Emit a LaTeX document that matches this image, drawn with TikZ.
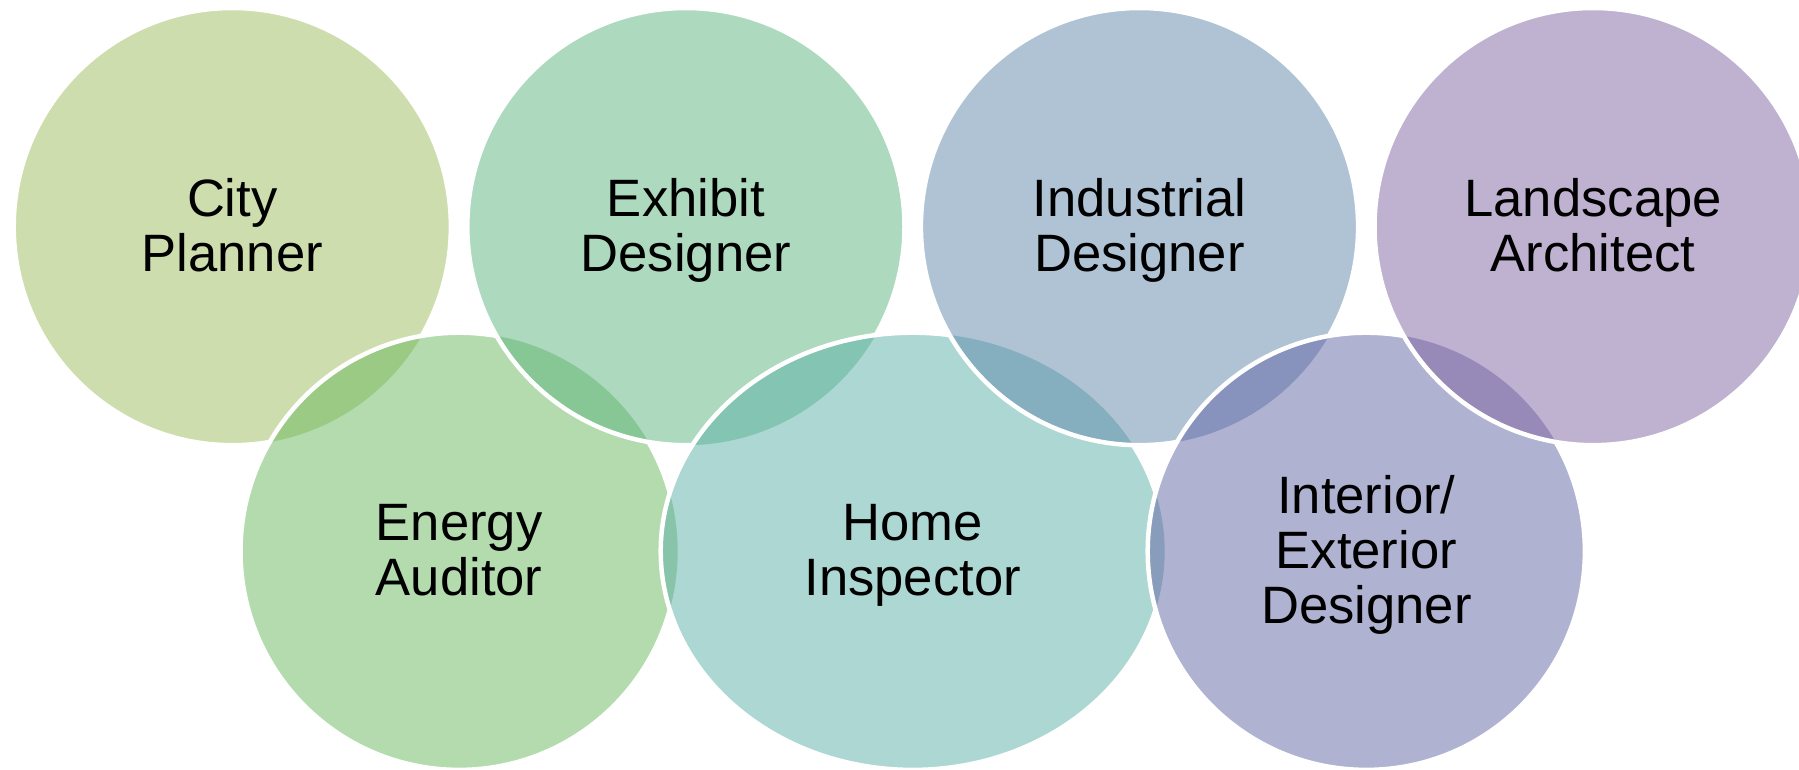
\documentclass[tikz,border=0pt]{standalone}
\usepackage{fontspec}
\setmainfont{Liberation Sans}
\usetikzlibrary{calc}
\definecolor{cCP}{RGB}{157,187,91}
\definecolor{cED}{RGB}{91,179,125}
\definecolor{cID}{RGB}{95,135,171}
\definecolor{cLA}{RGB}{127,99,161}
\definecolor{cEA}{RGB}{103,183,93}
\definecolor{cHI}{RGB}{91,175,167}
\definecolor{cIE}{RGB}{97,101,165}
\newcommand{\lblfont}{\fontsize{26.3pt}{27.5pt}\selectfont}
\newcommand{\radC}{218.6}
\newcommand{\radE}{252}
\newcommand{\cutcircle}[1]{\clip (-100,-100) -- (1900,-100) -- (1900,900) -- (-100,900) -- cycle ($(#1)+(\radC,0)$) arc[start angle=360,end angle=0,radius=\radC];}
\newcommand{\cutellipse}[1]{\clip (-100,-100) -- (1900,-100) -- (1900,900) -- (-100,900) -- cycle ($(#1)+(\radE,0)$) arc[start angle=360,end angle=0,x radius=\radE,y radius=\radC];}
\tikzset{
  blob/.style={fill=#1, fill opacity=0.5, draw=none},
  rim/.style={draw=white, line width=2.25pt},
  lbl/.style={align=center, font=\lblfont, text=black, inner sep=0pt},
}
\begin{document}
\begin{tikzpicture}[x=0.5pt,y=-0.5pt]
\useasboundingbox (0,0) rectangle (1799,770);
\coordinate (pCP) at (232.3,226.6);
\coordinate (pEA) at (459.1,551.3);
\coordinate (pED) at (685.9,226.6);
\coordinate (pHI) at (912.7,551.3);
\coordinate (pID) at (1139.5,226.6);
\coordinate (pIE) at (1366.3,551.3);
\coordinate (pLA) at (1593.1,226.6);
% City Planner
\fill[blob=cCP] (pCP) circle[radius=\radC];
\begin{scope}\cutcircle{pEA}\draw[rim] (pCP) circle[radius=\radC];\end{scope}
% Energy Auditor
\fill[blob=cEA] (pEA) circle[radius=\radC];
\begin{scope}\cutcircle{pED}\begin{scope}\cutellipse{pHI}\draw[rim] (pEA) circle[radius=\radC];\end{scope}\end{scope}
% Exhibit Designer
\fill[blob=cED] (pED) circle[radius=\radC];
\begin{scope}\cutellipse{pHI}\draw[rim] (pED) circle[radius=\radC];\end{scope}
% Home Inspector
\fill[blob=cHI] (pHI) ellipse[x radius=\radE,y radius=\radC];
\begin{scope}\cutcircle{pID}\begin{scope}\cutcircle{pIE}\draw[rim] (pHI) ellipse[x radius=\radE,y radius=\radC];\end{scope}\end{scope}
% Industrial Designer
\fill[blob=cID] (pID) circle[radius=\radC];
\begin{scope}\cutcircle{pIE}\draw[rim] (pID) circle[radius=\radC];\end{scope}
% Interior/Exterior Designer
\fill[blob=cIE] (pIE) circle[radius=\radC];
\begin{scope}\cutcircle{pLA}\draw[rim] (pIE) circle[radius=\radC];\end{scope}
% Landscape Architect
\fill[blob=cLA] (pLA) circle[radius=\radC];
\draw[rim] (pLA) circle[radius=\radC];
% labels
\node[lbl] (tCP) at ($(pCP)+(0,6)$) {\strut City\\\strut Planner};
\node[lbl] (tED) at ($(pED)+(0,6)$) {\strut Exhibit\\\strut Designer};
\node[lbl] (tID) at ($(pID)+(0,6)$) {\strut Industrial\\\strut Designer};
\node[lbl] (tLA) at ($(pLA)+(0,6)$) {\strut Landscape\\\strut Architect};
\node[lbl] (tEA) at ($(pEA)+(0,6)$) {\strut Energy\\\strut Auditor};
\node[lbl] (tHI) at ($(pHI)+(0,6)$) {\strut Home\\\strut Inspector};
\node[lbl] (tIE) at ($(pIE)+(0,6)$) {\strut Interior/\\Exterior\\\strut Designer};
\end{tikzpicture}
\end{document}
